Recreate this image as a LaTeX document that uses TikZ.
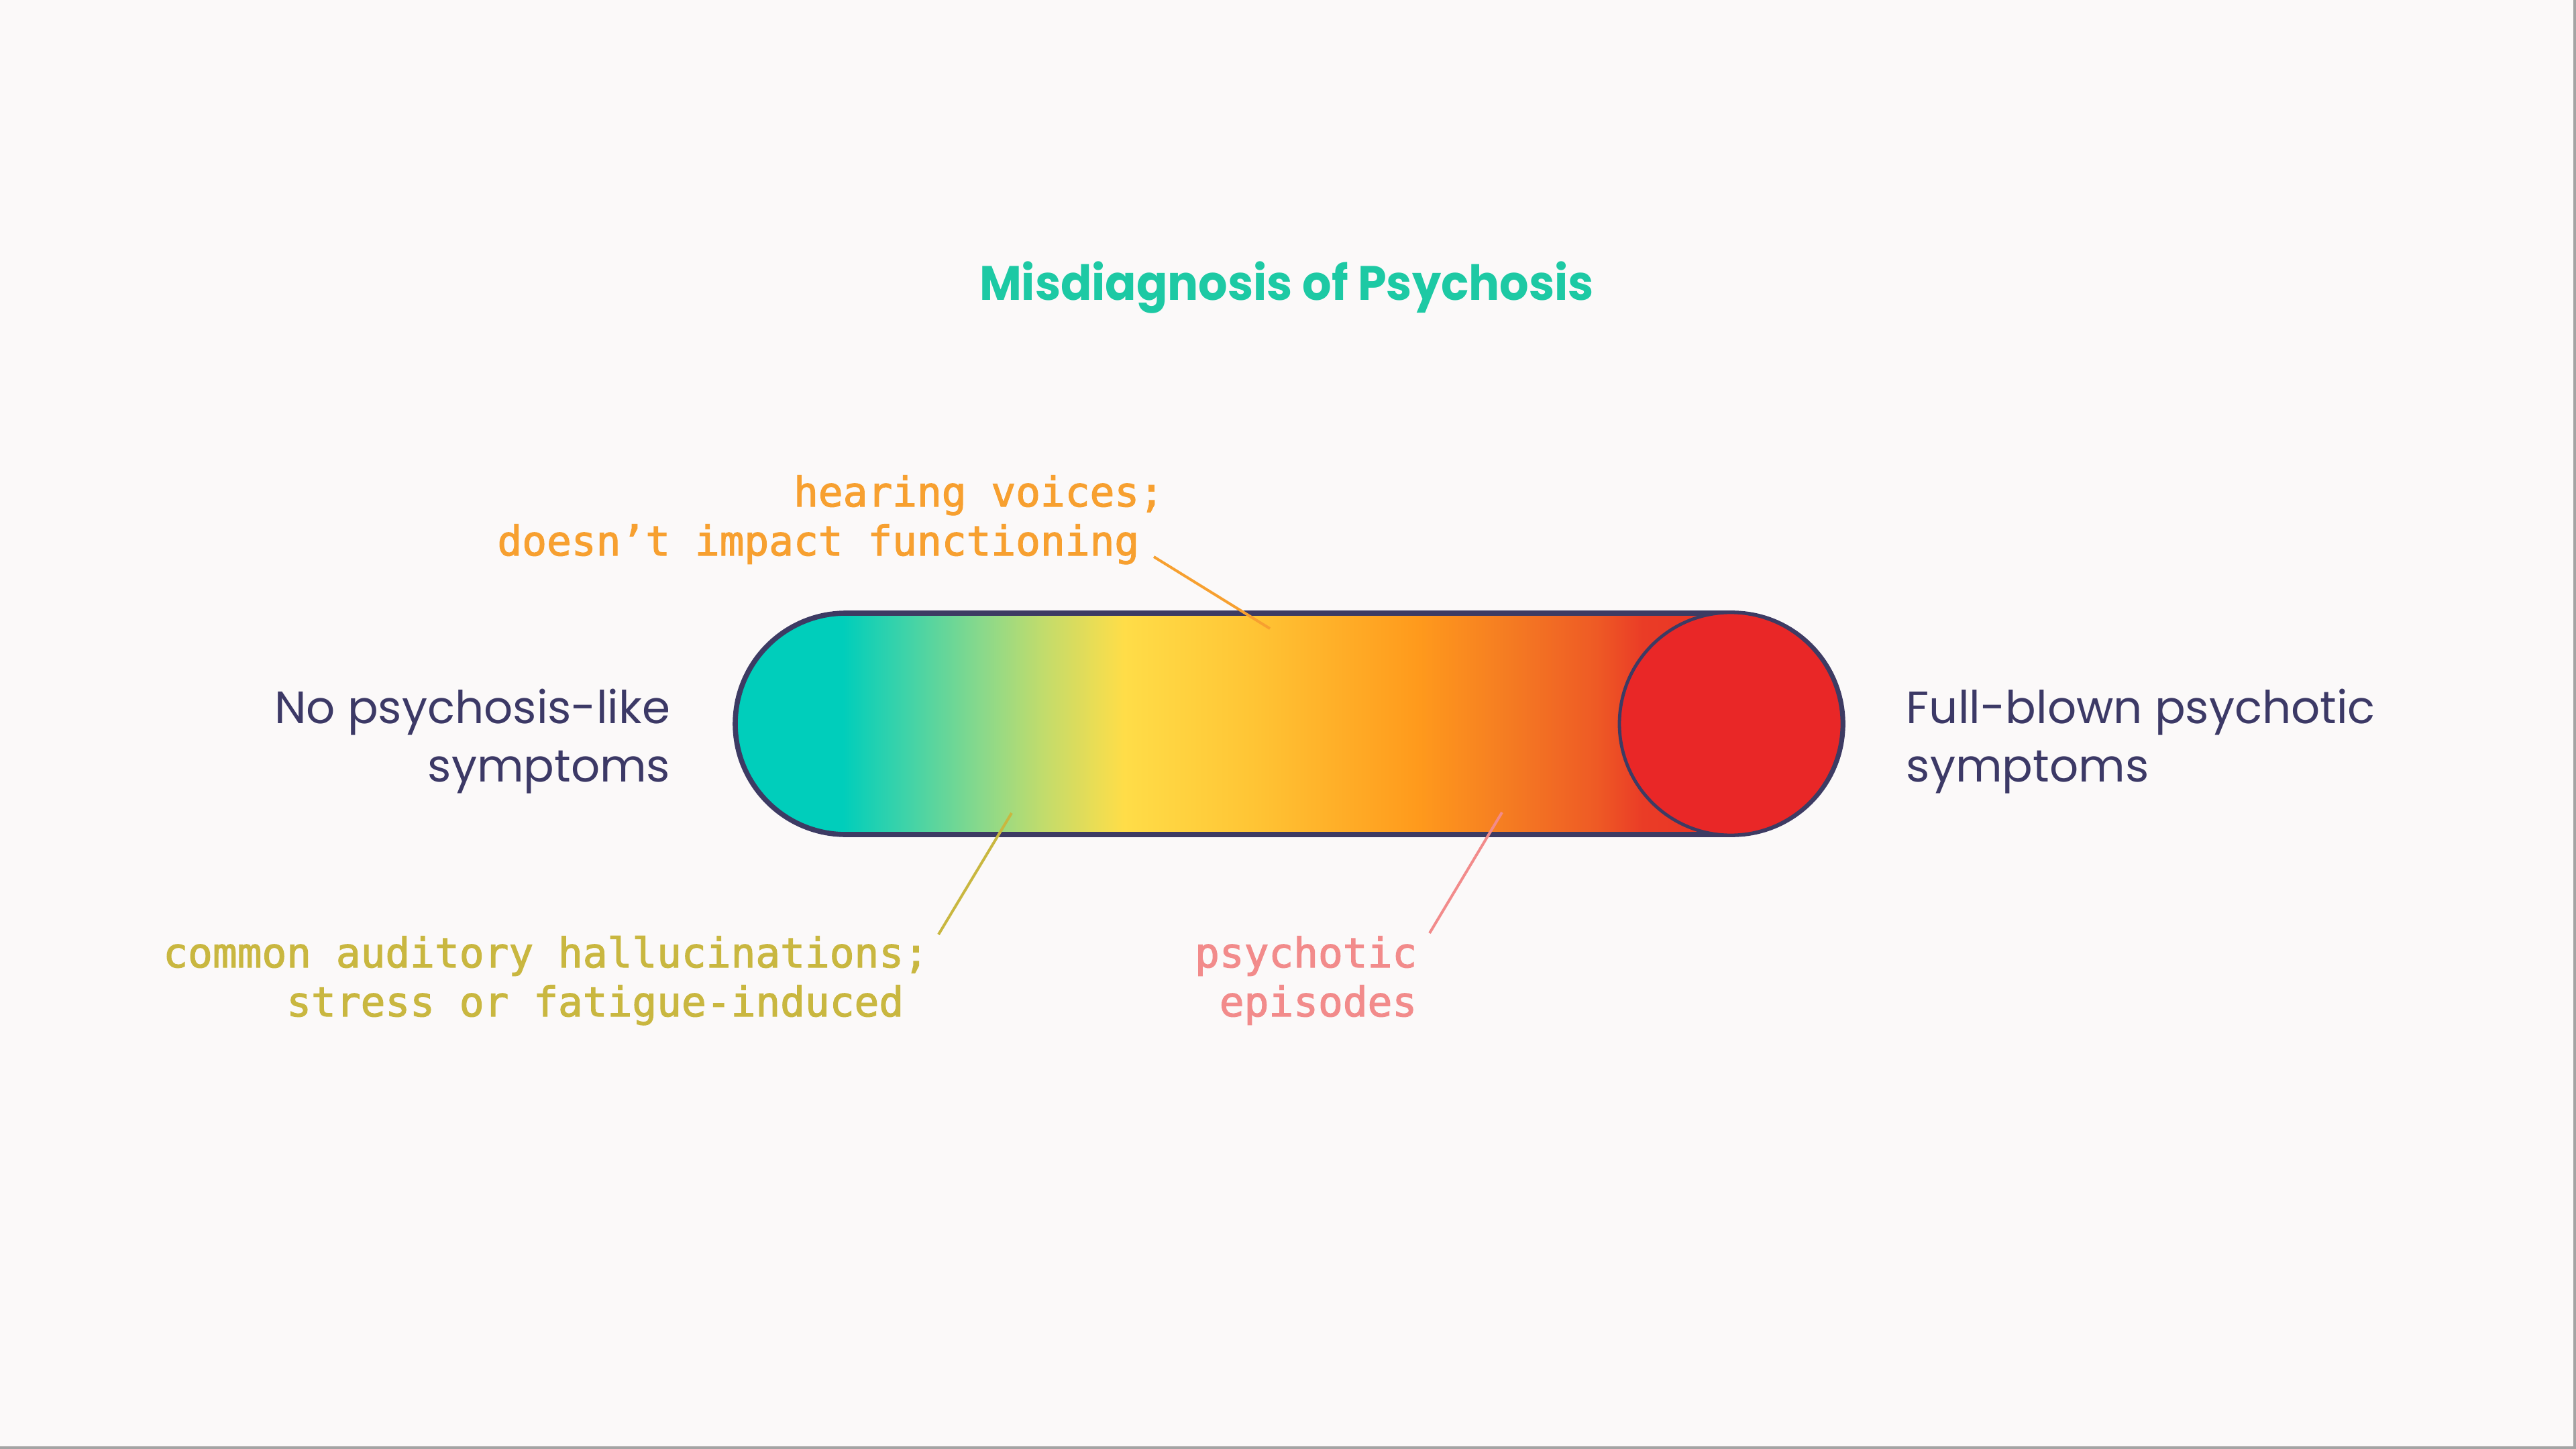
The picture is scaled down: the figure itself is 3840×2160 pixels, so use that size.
\documentclass[tikz,border=0pt]{standalone}
\usepackage{fontspec}
\setmainfont{Poppins}
\newfontfamily\titlef[FakeStretch=0.95]{Poppins}
\newfontfamily\monof[FakeBold=2]{DejaVu Sans Mono}
\usetikzlibrary{shapes.misc}
\definecolor{bg}{HTML}{FBF9F9}
\definecolor{edgegray}{HTML}{A4A4A4}
\definecolor{titlec}{HTML}{1DC9A4}
\definecolor{navy}{HTML}{3C3966}
\definecolor{barline}{HTML}{3D3B63}
\definecolor{orangec}{HTML}{F7A030}
\definecolor{olivec}{HTML}{C9B740}
\definecolor{pinkc}{HTML}{F28B8B}
\definecolor{redc}{HTML}{E92727}
\definecolor{s0}{RGB}{0,206,187}
\definecolor{s1}{RGB}{64,211,168}
\definecolor{s2}{RGB}{139,217,138}
\definecolor{s3}{RGB}{197,220,106}
\definecolor{s4}{RGB}{255,221,72}
\definecolor{s5}{RGB}{255,197,53}
\definecolor{s6}{RGB}{255,154,28}
\definecolor{s7}{RGB}{245,124,34}
\definecolor{s8}{RGB}{238,90,37}
\definecolor{s9}{RGB}{234,60,38}
\definecolor{s10}{RGB}{234,40,38}
\pgfdeclarehorizontalshading{spectrum}{100bp}{%
  color(0bp)=(s0); color(25bp)=(s0); color(29.85bp)=(s0);
  color(32.75bp)=(s1); color(36.21bp)=(s2); color(39.08bp)=(s3);
  color(42.54bp)=(s4); color(48.30bp)=(s5); color(55.80bp)=(s6);
  color(59.84bp)=(s7); color(63.88bp)=(s8); color(65.96bp)=(s9);
  color(75bp)=(s10); color(100bp)=(s10)}
\tikzset{
  titletext/.style={inner sep=0pt, text=titlec, font=\titlef\fontsize{18pt}{22pt}\selectfont\bfseries},
  sidetext/.style={inner sep=0pt, text=navy, font=\fontsize{16.9pt}{20pt}\selectfont},
  monotext/.style={inner sep=0pt, font=\monof\fontsize{15.28pt}{18.25pt}\selectfont},
  leader/.style={line width=1pt},
}
\begin{document}
\begin{tikzpicture}[x=0.25pt, y=-0.25pt]
\useasboundingbox (0,0) rectangle (3840,2160);
\fill[bg] (0,0) rectangle (3840,2160);
\fill[edgegray] (3836,0) rectangle (3840,2160);
\fill[edgegray] (0,2156) rectangle (3840,2160);

% title
\node[titletext, anchor=base] (title) at (1918,448) {Misdiagnosis of Psychosis};

% bar
\node[rounded rectangle, draw=barline, line width=1.9pt, shading=spectrum,
      minimum width=1651*0.25pt, minimum height=330*0.25pt, inner sep=0pt] (bar) at (1921.5,1079) {};
\node[circle, fill=redc, draw=barline, line width=1.2pt, minimum size=332*0.25pt, inner sep=0pt] (redend) at (2580,1079) {};

% side labels
\node[sidetext, anchor=base east] (left1) at (1000,1078) {No psychosis-like};
\node[sidetext, anchor=base east] (left2) at (1000,1165) {symptoms};
\node[sidetext, anchor=base west] (right1) at (2841,1078) {Full-blown psychotic};
\node[sidetext, anchor=base west] (right2) at (2841,1165) {symptoms};

% annotations
\node[monotext, text=orangec, anchor=base east] (hear1) at (1699,755) {hearing voices\rlap{;}};
\node[monotext, text=orangec, anchor=base east] (hear2) at (1699,828) {doesn’t impact functioning};
\node[monotext, text=olivec, anchor=base east] (aud1) at (1348,1442) {common auditory hallucinations\rlap{;}};
\node[monotext, text=olivec, anchor=base east] (aud2) at (1348,1515) {stress or fatigue-induced};
\node[monotext, text=pinkc, anchor=base east] (psy1) at (2113,1442) {psychotic};
\node[monotext, text=pinkc, anchor=base east] (psy2) at (2113,1515) {episodes};

\coordinate (hearA) at (1720,830);
\coordinate (hearB) at (1893,937);
\coordinate (audA) at (1399,1393);
\coordinate (audB) at (1508,1212);
\coordinate (psyA) at (2131,1391);
\coordinate (psyB) at (2239,1211);
\draw[leader, orangec] (hearA) -- (hearB);
\draw[leader, olivec] (audA) -- (audB);
\draw[leader, pinkc] (psyA) -- (psyB);
\end{tikzpicture}
\end{document}
